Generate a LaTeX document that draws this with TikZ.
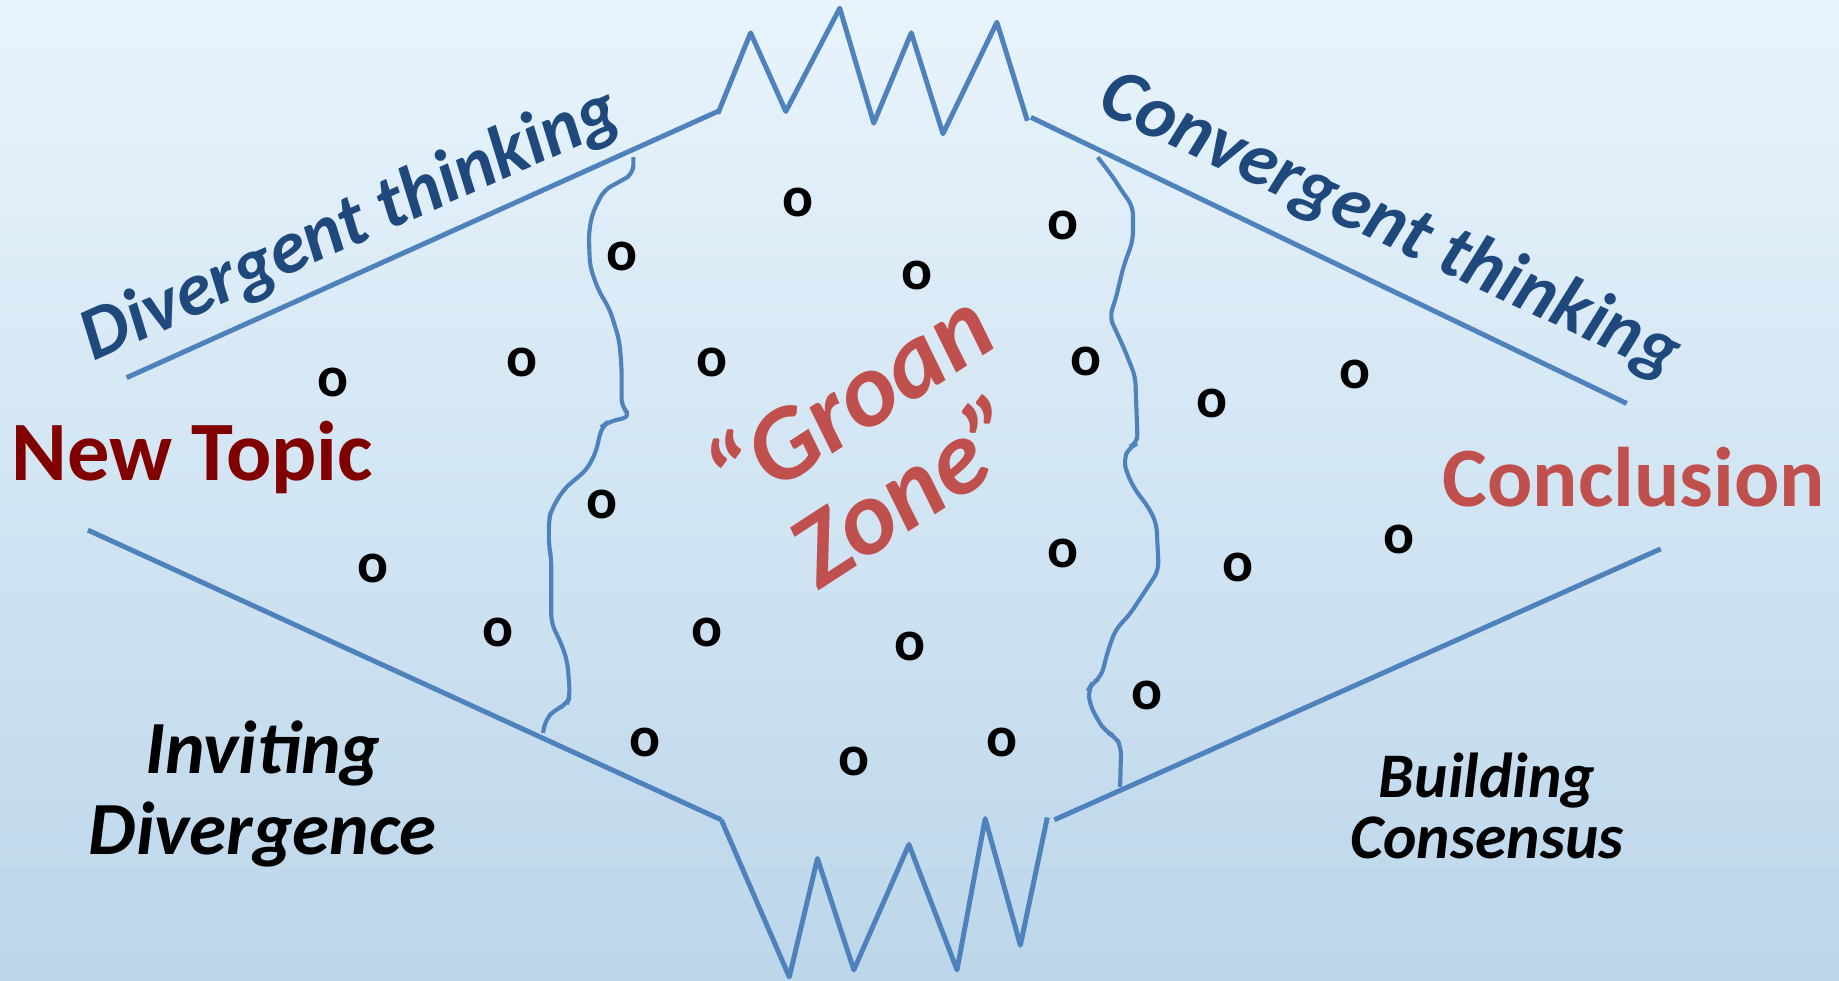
\documentclass[tikz,border=0pt]{standalone}
\usepackage{fontspec}
\setmainfont{Carlito}
\definecolor{lineblue}{HTML}{4F81BD}
\definecolor{headblue}{HTML}{1F497D}
\definecolor{groanred}{HTML}{C0504D}
\definecolor{topicred}{HTML}{800000}
\definecolor{skytop}{HTML}{E8F4FC}
\definecolor{skybottom}{HTML}{BCD6EA}
\tikzstyle{edge} = [draw=lineblue, line width=1.2pt, line join=round]
\tikzstyle{crack} = [draw=lineblue, line width=1pt, rounded corners=2]
\tikzstyle{thinking} = [anchor=base, text=headblue, font=\bfseries\itshape\fontsize{18.2}{20}\selectfont]
\tikzstyle{topic} = [anchor=base, font=\bfseries\fontsize{20.5}{24}\selectfont]
\tikzstyle{phase} = [align=center, text=black]
\tikzstyle{idea} = [inner sep=0pt, font=\bfseries\fontsize{14}{14}\selectfont]

\begin{document}
\begin{tikzpicture}[x=0.01cm, y=-0.01cm]
    \useasboundingbox (0,0) rectangle (1568,836);
    \shade [top color=skytop, bottom color=skybottom] (0,0) rectangle (1568,836);

    % outline
    \draw [edge] (108,322) -- (612,95);
    \draw [edge] (612,97) -- (640,28) -- (670,95) -- (716,7) -- (745,105) -- (777,28) -- (804,114) -- (850,19) -- (876,103);
    \draw [edge] (879,100) -- (1387,344);
    \draw [edge] (75,452) -- (615,699);
    \draw [edge] (615,699) -- (673,833) -- (697,732) -- (728,827) -- (775,720) -- (816,827) -- (840,698) -- (870,806) -- (893,697);
    \draw [edge] (899,699) -- (1416,468);

    % groan zone borders
    \draw [crack] (540,134) -- (540,148) -- (530,154) -- (515,162) -- (505,182) -- (502,199) -- (503,227) -- (510,247) -- (520,264) -- (528,290) -- (530,313) -- (530,347) -- (538,355) -- (518,360) -- (513,364) -- (508,386) -- (500,401) -- (490,409) -- (480,418) -- (470,435) -- (468,443) -- (468,466) -- (470,475) -- (470,531) -- (480,552) -- (484,566) -- (486,594) -- (483,601) -- (473,605) -- (465,614) -- (463,625);
    \draw [crack] (936,134) -- (949,151) -- (958,165) -- (966,176) -- (966,205) -- (958,227) -- (951,256) -- (946,270) -- (951,281) -- (958,296) -- (968,321) -- (970,378) -- (963,381) -- (958,392) -- (961,404) -- (968,418) -- (979,432) -- (986,446) -- (988,486) -- (981,497) -- (971,512) -- (964,523) -- (951,537) -- (944,557) -- (939,577) -- (931,583) -- (928,588) -- (929,600) -- (936,614) -- (943,624) -- (951,628) -- (956,637) -- (955,671);

    % labels
    \node (divergent) [thinking, rotate=24] at (306,208) {Divergent thinking};
    \node (convergent) [thinking, rotate=-25] at (1178,208) {Convergent thinking};
    \node (newtopic) [topic, text=topicred] at (164,410) {New Topic};
    \node (conclusion) [topic, text=groanred] at (1393,432) {Conclusion};
    \node (groan) [align=center, rotate=33, text=groanred, font=\bfseries\itshape\fontsize{25.5}{26}\selectfont] at (748,378) {“Groan\\Zone”};
    \node (inviting) [phase, font=\bfseries\itshape\fontsize{18.2}{19.5}\selectfont] at (224,677) {Inviting\\Divergence};
    \node (building) [phase, font=\bfseries\itshape\fontsize{15.4}{14.8}\selectfont] at (1268,687) {Building\\Consensus};

    % ideas
    \foreach \x/\y [count=\i] in {284/326, 445/309, 530/219, 680/173, 607/309, 782/235, 906/192, 926/308, 1033/344, 1155/319, 513/430, 318/485, 425/539, 603/539, 776/551, 906/472, 1056/484, 1193/460, 978/593, 550/633, 728/649, 854/633}
        \node (idea\i) [idea] at (\x,\y) {o};
\end{tikzpicture}
\end{document}
